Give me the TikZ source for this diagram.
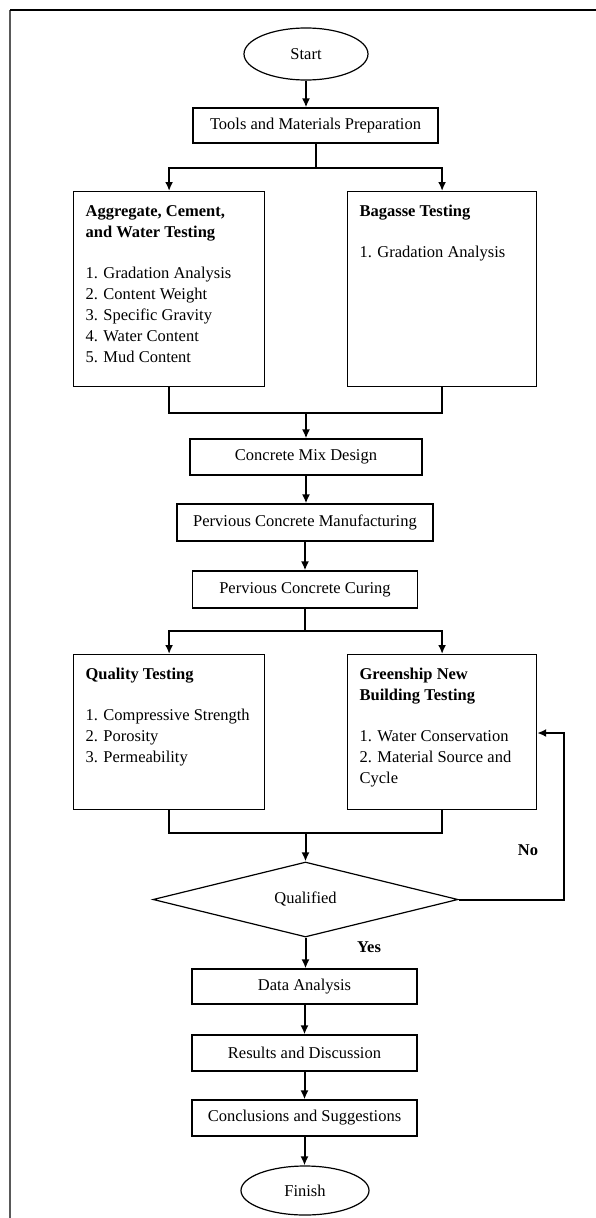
\documentclass[tikz,border=0pt]{standalone}
\usepackage{fontspec}
\setmainfont{Liberation Serif}
\usetikzlibrary{shapes.geometric,arrows.meta}

\begin{document}
\begin{tikzpicture}[
  x=1pt, y=-1pt,
  every node/.style={font=\fontsize{16.5}{21}\selectfont, text=black},
  stepbox/.style={draw, line width=1.2pt, inner sep=0pt, minimum height=36pt},
  testbox/.style={draw, line width=1.2pt, inner xsep=12pt, inner ysep=0pt, anchor=north west},
  terminal/.style={ellipse, draw, line width=1.2pt, inner sep=0pt},
  decision/.style={diamond, draw, line width=1.2pt, inner sep=0pt, aspect=4},
  answer/.style={font=\fontsize{16.5}{21}\selectfont\bfseries},
]
%-------------------------------------------------------------
% Custom colors
\newcommand{\colorframe}{black!65}
\newcommand{\colorflow}{black}

\tikzset{flowline/.style={draw, line width=2pt, \colorflow}}
\tikzset{flowarrow/.style={flowline, -{Latex[length=9pt,width=8pt]}}}
\tikzset{frameline/.style={draw, line width=1.5pt, \colorframe}}

%-------------------------------------------------------------
% Page frame
\clip (0,0) rectangle (596,1218);
\draw[frameline] (10,1230) -- (10,10);
\draw[frameline, black] (10,10) -- (610,10);

%-------------------------------------------------------------
% Main flowchart elements
\node[terminal, minimum width=124pt, minimum height=52pt] (start) at (306,54) {Start};
\node[stepbox, minimum width=245pt, minimum height=35pt] (tools) at (315.5,125.5) {Tools and Materials Preparation};
%============================================================
\node[testbox] (agg) at (73,191) {\parbox[b][195pt][t]{167pt}{\rule{0pt}{25pt}\textbf{Aggregate, Cement,}\\ \textbf{and Water Testing}\\[20pt]
  1. Gradation Analysis\\ 2. Content Weight\\ 3. Specific Gravity\\ 4. Water Content\\ 5. Mud Content}};
\node[testbox] (bag) at (347,191) {\parbox[b][195pt][t]{165pt}{\rule{0pt}{25pt}\textbf{Bagasse Testing}\\[20pt]
  1. Gradation Analysis}};
%============================================================
\node[stepbox, minimum width=232pt] (mix) at (306,457) {Concrete Mix Design};
\node[stepbox, minimum width=256pt, minimum height=37pt] (manu) at (305,522.5) {Pervious Concrete Manufacturing};
\node[stepbox, minimum width=225pt, minimum height=37pt] (cure) at (305,589.5) {Pervious Concrete Curing};
%============================================================
\node[testbox] (qual) at (73,654) {\parbox[b][155pt][t]{167pt}{\rule{0pt}{25pt}\textbf{Quality Testing}\\[20pt]
  1. Compressive Strength\\ 2. Porosity\\ 3. Permeability}};
\node[testbox] (green) at (347,654) {\parbox[b][155pt][t]{165pt}{\rule{0pt}{25pt}\textbf{Greenship New}\\ \textbf{Building Testing}\\[20pt]
  1. Water Conservation\\ 2. Material Source and\\ Cycle}};
%============================================================
\node[decision, minimum width=305pt, minimum height=75pt] (check) at (305.5,899.5) {Qualified};
\node[answer] (no) at (528,850) {No};
\node[answer] (yes) at (369,947) {Yes};
%============================================================
\node[stepbox, minimum width=225pt, minimum height=35pt] (data) at (304.5,986.5) {Data Analysis};
\node[stepbox, minimum width=225pt] (result) at (304.5,1053) {Results and Discussion};
\node[stepbox, minimum width=225pt] (concl) at (304.5,1118) {Conclusions and Suggestions};
\node[terminal, minimum width=128pt, minimum height=49pt] (finish) at (305,1190.5) {Finish};

%---------------------------------------------------
% Connectors
\coordinate (split1) at (315.5,168);
\coordinate (join1) at (306,413);
\coordinate (split2) at (305,631);
\coordinate (join2) at (305.5,833);
\coordinate (nobend) at (564,733);

\draw[flowarrow] (start.south) -- (start.south |- tools.north);

\draw[flowline] (tools.south) -- (split1);
\draw[flowarrow] (split1) -| (agg.north);
\draw[flowarrow] (split1) -| (bag.north);

\draw[flowline] (agg.south) |- (join1);
\draw[flowline] (bag.south) |- (join1);
\draw[flowarrow] (join1) -- (mix.north);

\draw[flowarrow] (mix.south) -- (mix.south |- manu.north);
\draw[flowarrow] (manu.south) -- (manu.south |- cure.north);

\draw[flowline] (cure.south) -- (split2);
\draw[flowarrow] (split2) -| (qual.north);
\draw[flowarrow] (split2) -| (green.north);

\draw[flowline] (qual.south) |- (join2);
\draw[flowline] (green.south) |- (join2);
\draw[flowarrow] (join2) -- (check.north);

\draw[flowarrow] (check.east) -| (nobend) -- (green.east |- nobend);
\draw[flowarrow] (check.south) -- (check.south |- data.north);

\draw[flowarrow] (data.south) -- (data.south |- result.north);
\draw[flowarrow] (result.south) -- (result.south |- concl.north);
\draw[flowarrow] (concl.south) -- (concl.south |- finish.north);

\end{tikzpicture}
\end{document}
